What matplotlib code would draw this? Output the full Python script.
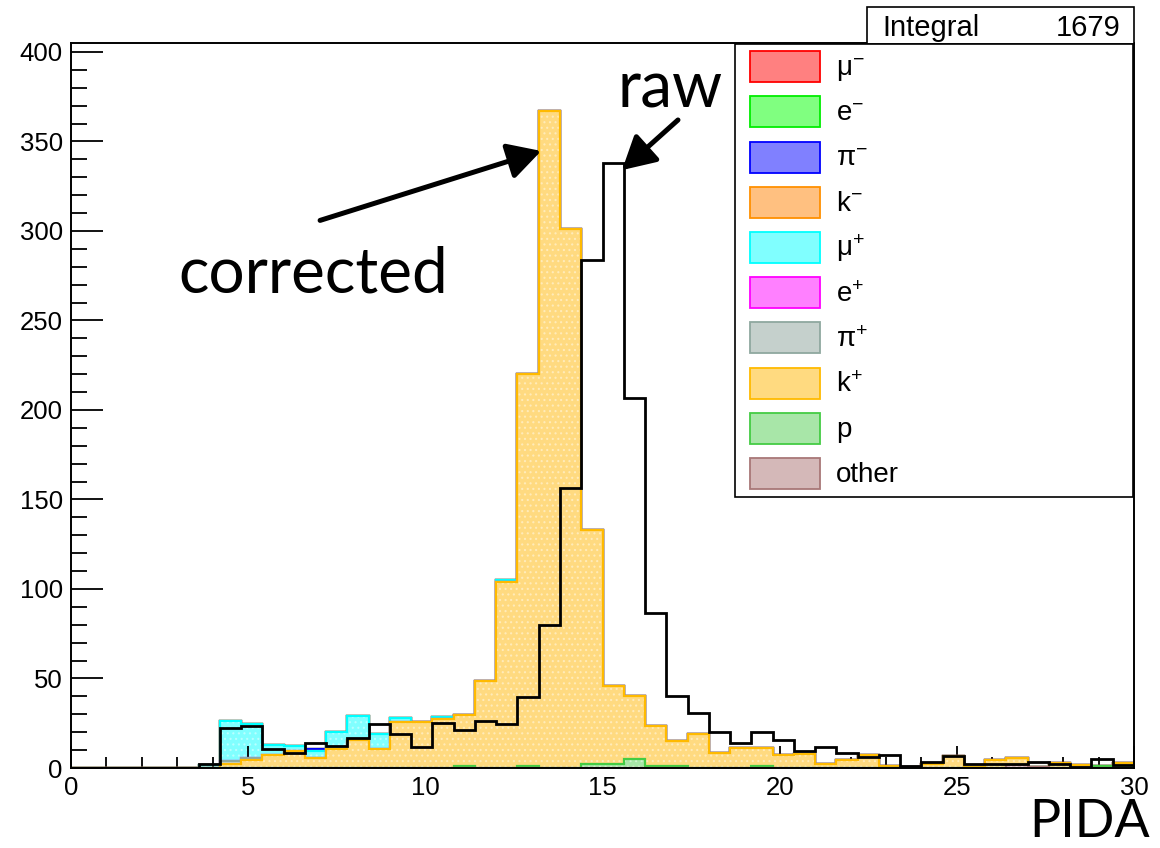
import numpy as np
import matplotlib.pyplot as plt
from matplotlib.patches import Rectangle
from matplotlib.ticker import MultipleLocator

plt.rcParams['font.family'] = ['Liberation Sans', 'DejaVu Sans']
plt.rcParams['mathtext.fontset'] = 'custom'
plt.rcParams['mathtext.rm'] = 'Liberation Sans'
plt.rcParams['mathtext.it'] = 'Liberation Sans'
plt.rcParams['hatch.linewidth'] = 0.8

# 50 bins of width 0.6 on PIDA 0..30
edges = np.linspace(0, 30, 51)

# raw (uncorrected) histogram
raw = [0, 0, 0, 0, 0, 0, 2, 22.2, 23.3, 10.4,
       8.6, 14, 12.5, 16.9, 24.6, 19.2, 11.5, 25.3, 21, 26.5,
       24.7, 39.4, 80, 156.6, 284, 337.7, 206.5, 86.6, 40.3, 30.7,
       20.1, 13.8, 20.1, 15.5, 9.7, 11.7, 8.6, 6.1, 7.5, 1.1,
       3.2, 6.7, 2, 2, 2, 3.4, 2.2, 0.5, 5, 1.9]

# corrected, split by true particle
k_plus = [0, 0, 0, 0, 0, 0, 0, 2, 4.7, 7.3,
          9.3, 5.4, 10.6, 15.4, 10.4, 25.5, 25.5, 27.4, 28.8, 48.8,
          104, 219, 367, 301, 131, 43.7, 35.4, 22.5, 14, 19,
          8.4, 11.2, 10.2, 7.5, 7.6, 2.4, 4.3, 7.4, 1.1, 0.5,
          2.3, 6.5, 0.5, 4.3, 3.9, 0, 2.8, 1.9, 0, 1.8]
mu_plus = [0, 0, 0, 0, 0, 0, 1.5, 22.5, 18.9, 5.4,
           2.8, 4.2, 9.7, 13.4, 8.6, 2.2, 0, 1.3, 0, 0,
           1] + [0] * 29
pi_plus = [0] * 7 + [2, 1] + [0] * 41
pi_minus = [0] * 11 + [0.8] + [0] * 38
proton = [0] * 50
for i, v in {18: 1, 21: 1, 24: 2, 25: 2, 26: 5, 27: 1, 28: 1, 32: 1, 48: 1, 49: 1}.items():
    proton[i] = v
other = [0] * 50
other[44] = 1.5
other[45] = 0.5
zero = [0] * 50

# legend order: label, values, line colour, fill colour
species = [
    (r'$\mathregular{μ^{-}}$', zero, '#ff0000', '#ff8080'),
    (r'$\mathregular{e^{-}}$', zero, '#00ee00', '#80ff80'),
    (r'$\mathregular{π^{-}}$', pi_minus, '#0000ff', '#8080ff'),
    (r'$\mathregular{k^{-}}$', zero, '#ff9000', '#ffc080'),
    (r'$\mathregular{μ^{+}}$', mu_plus, '#00ffff', '#80ffff'),
    (r'$\mathregular{e^{+}}$', zero, '#ff00ff', '#ff80ff'),
    (r'$\mathregular{π^{+}}$', pi_plus, '#8fa89f', '#c5d0cc'),
    (r'$\mathregular{k^{+}}$', k_plus, '#ffba00', '#ffda80'),
    ('p', proton, '#44cc44', '#a8e6a8'),
    ('other', other, '#a87777', '#d4b8b8'),
]


def lighter(c, f=0.45):
    r, g, b = [int(c[i:i + 2], 16) / 255 for i in (1, 3, 5)]
    return (r + (1 - r) * f, g + (1 - g) * f, b + (1 - b) * f)


W, H = 1160, 848
fig = plt.figure(figsize=(W / 100, H / 100), dpi=100)
ax = fig.add_axes([71 / W, 1 - 768 / H, (1134 - 71) / W, (768 - 43) / H])

# stack: bottom is the last legend entry
stack_order = species[::-1]
cums = np.cumsum([np.array(s[1], dtype=float) for s in stack_order], axis=0)
# draw the top-most cumulative first, like ROOT's THStack
z = 1.0
for k in range(len(stack_order) - 1, -1, -1):
    label, vals, line, fill = stack_order[k]
    ax.stairs(cums[k], edges, baseline=0, fill=True, facecolor=fill,
              edgecolor=lighter(fill), hatch='...', linewidth=0, zorder=z)
    ax.stairs(cums[k], edges, baseline=0, fill=False, color=line,
              linewidth=1.6, zorder=z + 0.01)
    z += 0.1

ax.stairs(raw, edges, baseline=0, color='black', linewidth=2.0, zorder=2.3)

ax.set_xlim(0, 30)
ax.set_ylim(0, 405)
ax.set_xticks(range(0, 31, 5))
ax.set_yticks(range(0, 401, 50))
ax.xaxis.set_minor_locator(MultipleLocator(1))
ax.yaxis.set_minor_locator(MultipleLocator(10))
ax.tick_params(axis='x', which='major', direction='in', length=15.8, width=1.3,
               labelsize=18.5, pad=6)
ax.tick_params(axis='x', which='minor', direction='in', length=7.9, width=1.3)
ax.tick_params(axis='y', which='major', direction='in', length=23, width=1.3,
               labelsize=18.5, pad=6)
ax.tick_params(axis='y', which='minor', direction='in', length=11.5, width=1.3)
for sp in ax.spines.values():
    sp.set_linewidth(1.4)
    sp.set_zorder(3)

# arrows and hand-written labels
arrow = dict(arrowstyle='-|>,head_length=1.0,head_width=0.55', lw=3.6,
             color='black', shrinkA=0, shrinkB=0, mutation_scale=20)
ax.annotate('', xy=(13.27, 344.7), xytext=(7.03, 305.9), arrowprops=arrow,
            zorder=4)
ax.annotate('', xy=(15.55, 334), xytext=(17.13, 362), arrowprops=arrow,
            zorder=4)
ax.text(3.02, 265.4, 'corrected', family='Lato', fontsize=46, va='baseline',
        zorder=4)
ax.text(15.41, 368.7, 'raw', family='Lato', fontsize=46, va='baseline',
        zorder=4)
fig.text(1150 / W, 1 - 837 / H, 'PIDA', family='Lato', fontsize=37.5,
         ha='right', va='baseline')


def fx(x):
    return x / W


def fy(y):
    return 1 - y / H


# stats box
fig.add_artist(Rectangle((fx(867), fy(44)), (1134 - 867) / W, 37 / H,
                         facecolor='white', edgecolor='black', lw=1.2,
                         transform=fig.transFigure, zorder=10))
fig.text(fx(882), fy(36), 'Integral', fontsize=21, va='baseline', zorder=11)
fig.text(fx(1121), fy(36), '1679', fontsize=21, va='baseline', ha='right',
         zorder=11)

# legend box
fig.add_artist(Rectangle((fx(735), fy(497)), (1133 - 735) / W, (497 - 44) / H,
                         facecolor='white', edgecolor='black', lw=1.2,
                         transform=fig.transFigure, zorder=10))
for i, (label, vals, line, fill) in enumerate(species):
    cy = 66.7 + 45.2 * i
    fig.add_artist(Rectangle((fx(750), fy(cy + 15.5)), 70 / W, 31 / H,
                             facecolor=fill, edgecolor=line, lw=1.3,
                             transform=fig.transFigure, zorder=11))
    fig.text(fx(836), fy(cy + 9), label, fontsize=20, va='baseline',
             zorder=11)

fig.savefig('out.png', dpi=100)
